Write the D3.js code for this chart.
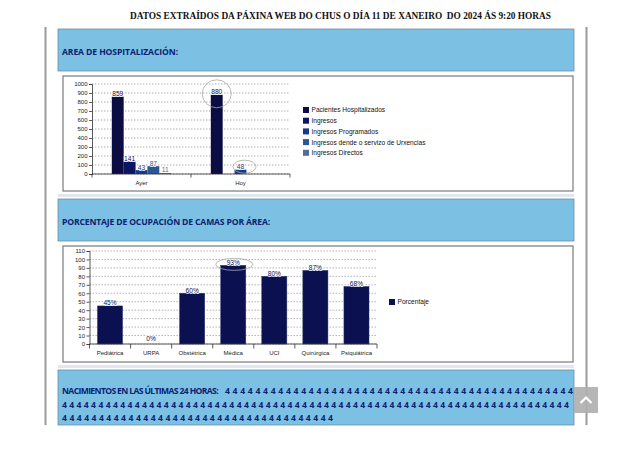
<!DOCTYPE html>
<html>
<head>
<meta charset="utf-8">
<script src="https://cdn.jsdelivr.net/npm/d3@7"></script>
<style>
html,body{margin:0;padding:0;background:#fff;}
svg{display:block;}
</style>
</head>
<body>
<svg id="page" width="640" height="453"></svg>
<script>
// ---------- DATA ----------
const titleText = "DATOS EXTRAÍDOS DA PÁXINA WEB DO CHUS O DÍA 11 DE XANEIRO\u00A0 DO 2024 ÁS 9:20 HORAS";
const header1 = "AREA DE HOSPITALIZACIÓN:";
const header2 = "PORCENTAJE DE OCUPACIÓN DE CAMAS POR ÁREA:";
const header3 = "NACIMIENTOS EN LAS ÚLTIMAS 24 HORAS:";

const hospCategories = ["Ayer", "Hoy"];
const hospSeries = ["Pacientes Hospitalizados", "Ingresos", "Ingresos Programados",
                    "Ingresos dende o servizo de Urxencias", "Ingresos Directos"];
const hospAyer = [859, 141, 43, 87, 11];
const hospHoy  = [880, 0, 48, 0, 0];
const hospTicks = [0, 100, 200, 300, 400, 500, 600, 700, 800, 900, 1000];

const camasAreas = ["Pediátrica", "URPA", "Obstétrica", "Médica", "UCI", "Quirúrgica", "Psiquiátrica"];
const camasPct = [45, 0, 60, 93, 80, 87, 68];
const camasTicks = [0, 10, 20, 30, 40, 50, 60, 70, 80, 90, 100, 110];
const camasSeries = ["Porcentaje"];

const birthLines = [
  "4 ".repeat(46).trim(),
  "4 ".repeat(70).trim(),
  "4 ".repeat(37).trim()
];

// ---------- STYLE ----------
const seriesColors = ["#0a0c42", "#0c1562", "#163c88", "#2d5696", "#536c9a"];
const barNavy = "#0b1150";
const panelBlue = "#7cc0e4";
const navyText = "#0b2370";
const sans = "'Liberation Sans', Arial, sans-serif";
const headFont = "'Open Sans', 'Noto Sans', sans-serif";

const svg = d3.select("#page");

// Title
svg.append("text").attr("x", 130).attr("y", 19)
  .attr("font-family", "'Liberation Serif', 'Times New Roman', serif")
  .attr("font-weight", "bold").attr("font-size", 9.6).attr("fill", "#111")
  .attr("textLength", 421).attr("lengthAdjust", "spacingAndGlyphs")
  .text(titleText);

// Outer frame lines
[45.5, 586.5].forEach(x => svg.append("line")
  .attr("x1", x).attr("x2", x).attr("y1", 27).attr("y2", 425)
  .attr("stroke", "#9c9c9c").attr("stroke-width", 2));

function panel(y, h) {
  svg.append("rect").attr("x", 58).attr("y", y).attr("width", 516).attr("height", h)
    .attr("fill", panelBlue).attr("stroke", "#6d8ea6").attr("stroke-width", 0.8);
}
function strip(y) {
  svg.append("rect").attr("x", 58).attr("y", y).attr("width", 516).attr("height", 3)
    .attr("fill", "#e3e6ee");
}
function box(y, h) {
  svg.append("rect").attr("x", 63).attr("y", y).attr("width", 510).attr("height", h)
    .attr("fill", "#fff").attr("stroke", "#7a7a7a").attr("stroke-width", 1.2);
}
// header text squeezed to a target width by letter-spacing (keeps true bbox)
function headText(x, y, txt, width) {
  const t = svg.append("text").attr("x", x).attr("y", y)
    .attr("font-family", headFont).attr("font-weight", "bold").attr("font-size", 8.6)
    .attr("fill", navyText).text(txt);
  const natural = t.node().getComputedTextLength();
  const ls = (width - natural) / txt.length;
  t.attr("letter-spacing", ls.toFixed(3));
  return t;
}
function fourText(x, y, txt, width) {
  const t = svg.append("text").attr("x", x).attr("y", y)
    .attr("font-family", headFont).attr("font-weight", "bold").attr("font-size", 8.6)
    .attr("fill", navyText).text(txt);
  const natural = t.node().getComputedTextLength();
  const ls = (width - natural) / (txt.length - 1);
  t.attr("letter-spacing", ls.toFixed(3));
  return t;
}

panel(29, 42);
headText(62, 55, header1, 116);
box(76, 115);
strip(194);
panel(199, 42);
headText(62, 225, header2, 208);
box(246, 116);
strip(365);
panel(370, 55);
headText(62, 394, header3, 156);
fourText(225, 394, birthLines[0], 348);
fourText(62, 407.5, birthLines[1], 507);
fourText(62, 421, birthLines[2], 271);

// ---------- CHART 1 ----------
(function () {
  const g = svg.append("g");
  const x = d3.scaleBand().domain(hospCategories).range([92, 290]).padding(0);
  const bw = x.bandwidth();
  const xs = d3.scaleBand().domain(hospSeries).range([bw * 0.2, bw * 0.8]).padding(0);
  const y = d3.scaleLinear().domain([0, 1000]).range([174, 84]);

  g.selectAll(".grid").data(hospTicks).join("line")
    .attr("x1", 92).attr("x2", 290).attr("y1", d => y(d)).attr("y2", d => y(d))
    .attr("stroke", "#8a8a8a").attr("stroke-width", 0.7).attr("stroke-dasharray", "1.4,1.6");

  const yAxis = g.append("g").attr("transform", "translate(92,0)")
    .call(d3.axisLeft(y).tickValues(hospTicks).tickFormat(d3.format("d")).tickSize(3).tickPadding(1.5));
  yAxis.selectAll("text").attr("font-family", sans).attr("font-size", 6).attr("fill", "#222");
  yAxis.selectAll("line,path").attr("stroke", "#333").attr("stroke-width", 0.8);

  const rows = hospCategories.map((c, i) => ({ cat: c, vals: i === 0 ? hospAyer : hospHoy }));
  const grp = g.selectAll(".grp").data(rows).join("g")
    .attr("transform", d => `translate(${x(d.cat)},0)`);
  grp.selectAll("rect").data(d => d.vals.map((v, j) => ({ v, s: hospSeries[j], j })))
    .join("rect")
    .attr("x", d => xs(d.s)).attr("width", xs.bandwidth())
    .attr("y", d => y(d.v)).attr("height", d => 174 - y(d.v))
    .attr("fill", d => seriesColors[d.j]);
  grp.selectAll("text").data(d => d.vals.map((v, j) => ({ v, s: hospSeries[j], j })).filter(d => d.v > 0))
    .join("text")
    .attr("x", d => xs(d.s) + xs.bandwidth() / 2).attr("y", d => y(d.v) - 0.6)
    .attr("text-anchor", "middle").attr("font-family", sans).attr("font-size", 6.6)
    .attr("fill", d => seriesColors[d.j]).attr("stroke", "#fff").attr("stroke-width", 1.6)
    .attr("paint-order", "stroke").text(d => d.v);

  g.append("line").attr("x1", 92).attr("x2", 290).attr("y1", 174).attr("y2", 174)
    .attr("stroke", "#333").attr("stroke-width", 0.8);
  const bounds = hospCategories.map(c => x(c)).concat([x(hospCategories[hospCategories.length - 1]) + bw]);
  g.selectAll(".xt").data(bounds).join("line")
    .attr("x1", d => d).attr("x2", d => d).attr("y1", 174).attr("y2", 177.5)
    .attr("stroke", "#333").attr("stroke-width", 0.8);
  g.selectAll(".xl").data(hospCategories).join("text")
    .attr("x", d => x(d) + bw / 2).attr("y", 184.5).attr("text-anchor", "middle")
    .attr("font-family", sans).attr("font-size", 6).attr("fill", "#222").text(d => d);

  const hoyX = x("Hoy");
  g.append("ellipse").attr("cx", hoyX + xs(hospSeries[0]) + xs.bandwidth() / 2)
    .attr("cy", y(hospHoy[0]) - 1).attr("rx", 14.5).attr("ry", 14)
    .attr("fill", "none").attr("stroke", "#a8a8a8").attr("stroke-width", 0.8);
  g.append("ellipse").attr("cx", hoyX + xs(hospSeries[2]) + xs.bandwidth() / 2 + 4)
    .attr("cy", y(hospHoy[2]) - 3).attr("rx", 11.5).attr("ry", 6.5)
    .attr("fill", "none").attr("stroke", "#a8a8a8").attr("stroke-width", 0.8);

  const lg = g.selectAll(".lg").data(hospSeries).join("g")
    .attr("transform", (d, i) => `translate(303,${110 + i * 10.7})`);
  lg.append("rect").attr("x", 0).attr("y", -3).attr("width", 6).attr("height", 6)
    .attr("fill", (d, i) => seriesColors[i]);
  lg.append("text").attr("x", 8.5).attr("y", 2.4).attr("font-family", sans)
    .attr("font-size", 6.6).attr("fill", "#111").text(d => d);
})();

// ---------- CHART 2 ----------
(function () {
  const g = svg.append("g");
  const x = d3.scaleBand().domain(camasAreas).range([89.5, 377]).padding(0);
  const bw = x.bandwidth();
  const y = d3.scaleLinear().domain([0, 110]).range([344, 251]);

  g.selectAll(".grid").data(camasTicks).join("line")
    .attr("x1", 89.5).attr("x2", 377).attr("y1", d => y(d)).attr("y2", d => y(d))
    .attr("stroke", "#8a8a8a").attr("stroke-width", 0.7).attr("stroke-dasharray", "1.4,1.6");

  const yAxis = g.append("g").attr("transform", "translate(89.5,0)")
    .call(d3.axisLeft(y).tickValues(camasTicks).tickFormat(d3.format("d")).tickSize(3).tickPadding(1.5));
  yAxis.selectAll("text").attr("font-family", sans).attr("font-size", 6).attr("fill", "#222");
  yAxis.selectAll("line,path").attr("stroke", "#333").attr("stroke-width", 0.8);

  const data = camasAreas.map((a, i) => ({ a, v: camasPct[i] }));
  const barW = bw * 0.61;
  g.selectAll(".bar").data(data).join("rect")
    .attr("x", d => x(d.a) + (bw - barW) / 2).attr("width", barW)
    .attr("y", d => y(d.v)).attr("height", d => 344 - y(d.v))
    .attr("fill", barNavy).attr("stroke", "#26306a").attr("stroke-width", 0.5);
  g.selectAll(".vl").data(data).join("text")
    .attr("x", d => x(d.a) + bw / 2).attr("y", d => y(d.v) - (d.v === 0 ? 3 : 0.6))
    .attr("text-anchor", "middle").attr("font-family", sans).attr("font-size", 6.6)
    .attr("fill", barNavy).attr("stroke", "#fff").attr("stroke-width", 1.6)
    .attr("paint-order", "stroke").text(d => d.v + "%");

  g.append("line").attr("x1", 89.5).attr("x2", 377).attr("y1", 344).attr("y2", 344)
    .attr("stroke", "#333").attr("stroke-width", 0.8);
  const bounds = camasAreas.map(c => x(c)).concat([x(camasAreas[camasAreas.length - 1]) + bw]);
  g.selectAll(".xt").data(bounds).join("line")
    .attr("x1", d => d).attr("x2", d => d).attr("y1", 344).attr("y2", 348.5)
    .attr("stroke", "#333").attr("stroke-width", 0.8);
  g.selectAll(".xl").data(camasAreas).join("text")
    .attr("x", d => x(d) + bw / 2).attr("y", 354.5).attr("text-anchor", "middle")
    .attr("font-family", sans).attr("font-size", 6).attr("fill", "#222").text(d => d);

  g.append("ellipse").attr("cx", x("Médica") + bw / 2 + 1).attr("cy", y(camasPct[3]) - 1)
    .attr("rx", 18.5).attr("ry", 6)
    .attr("fill", "none").attr("stroke", "#a8a8a8").attr("stroke-width", 0.8);

  const lg = g.selectAll(".lg").data(camasSeries).join("g")
    .attr("transform", "translate(389,302)");
  lg.append("rect").attr("x", 0).attr("y", -3).attr("width", 6).attr("height", 6).attr("fill", barNavy);
  lg.append("text").attr("x", 8.5).attr("y", 2.4).attr("font-family", sans)
    .attr("font-size", 6.6).attr("fill", "#111").text(d => d);
})();

// Scroll-to-top button
svg.append("rect").attr("x", 574).attr("y", 387).attr("width", 24).attr("height", 26)
  .attr("fill", "#b0b0b0").attr("opacity", 0.92);
svg.append("polyline").attr("points", "580.5,403 586,397.5 591.5,403")
  .attr("fill", "none").attr("stroke", "#fff").attr("stroke-width", 2.2);
</script>
</body>
</html>
